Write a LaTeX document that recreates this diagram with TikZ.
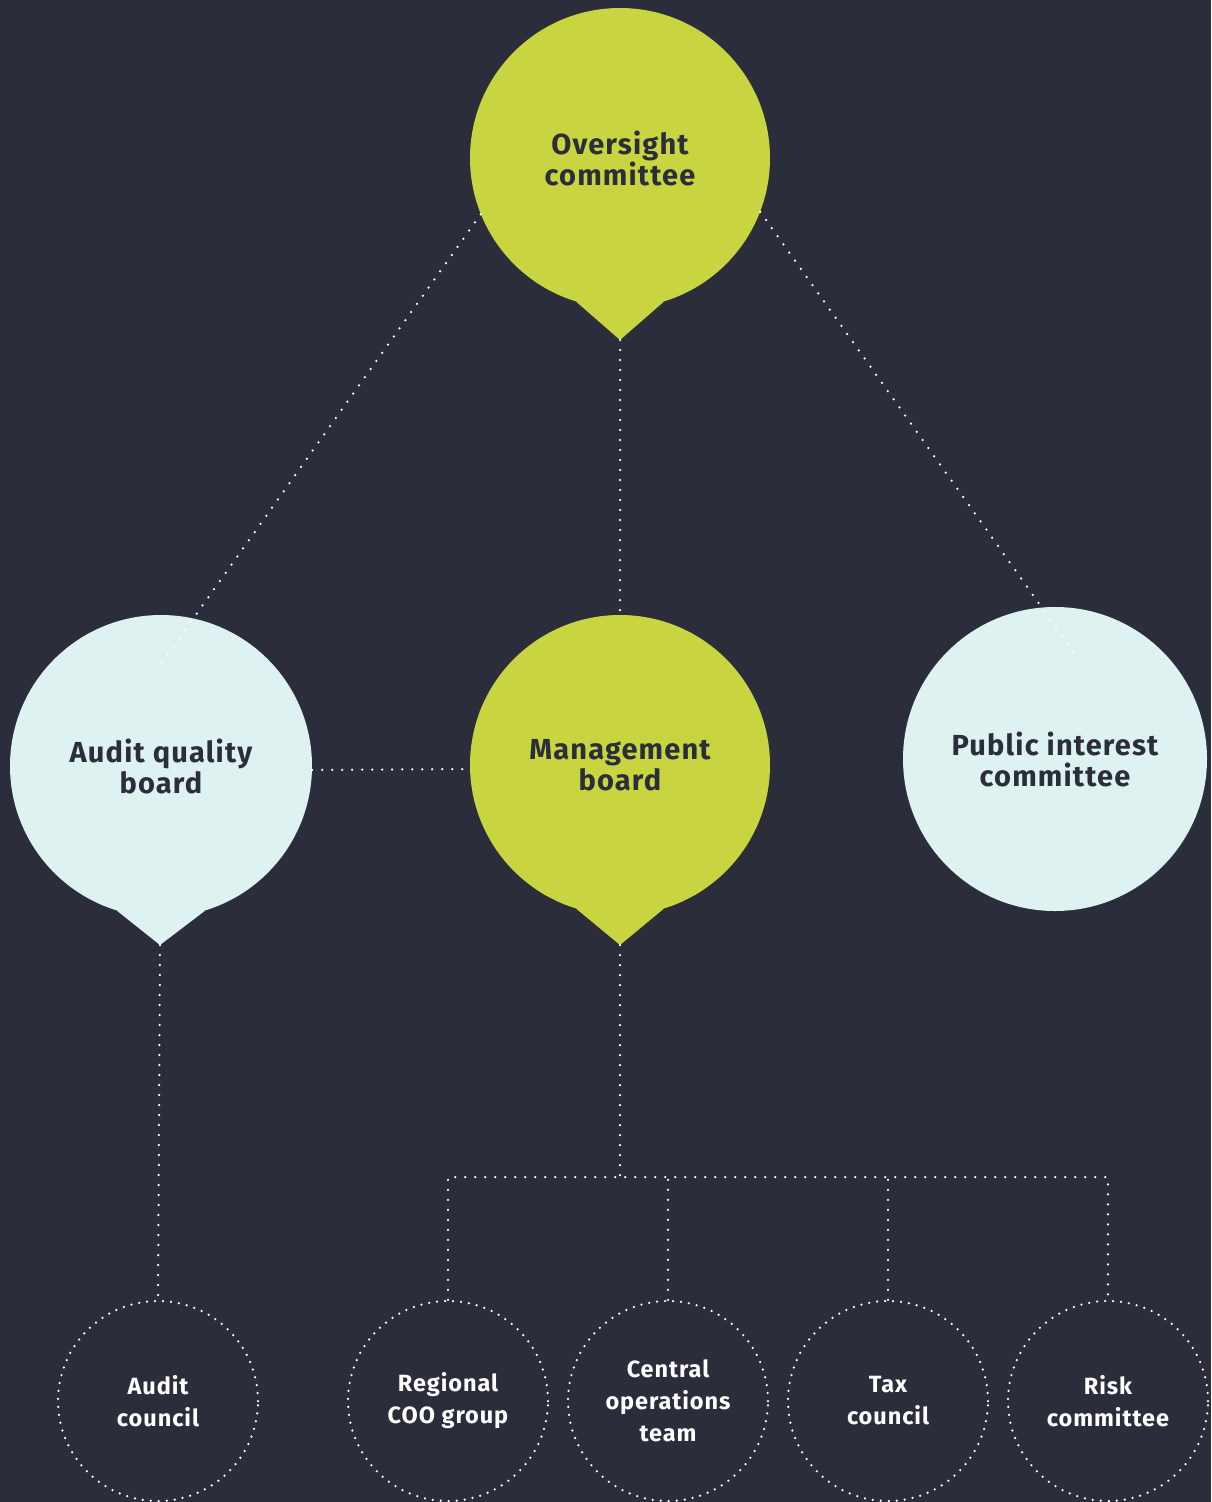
\documentclass[tikz,border=0pt]{standalone}
\usepackage{fontspec}
\setmainfont{Fira Sans}[LetterSpace=4]

\definecolor{navy}{HTML}{2B2E3A}
\definecolor{lime}{HTML}{C9D441}
\definecolor{mist}{HTML}{DEF2F1}

\tikzset{
  board/.style={circle, inner sep=0pt, minimum size=300pt, align=center, text=navy,
    font=\bfseries\fontsize{29}{31}\selectfont},
  unit/.style={circle, inner sep=0pt, minimum size=200pt, align=center, text=white,
    draw=white, line width=2.5pt, dash pattern=on 0pt off 8pt, line cap=round,
    font=\bfseries\fontsize{23.5}{32}\selectfont},
  link/.style={white, line width=2.5pt, dash pattern=on 0pt off 10pt, line cap=round},
}

\begin{document}
\begin{tikzpicture}[x=1pt, y=-1pt]
\fill[navy] (0,0) rectangle (1211,1502);
\useasboundingbox (0,0) rectangle (1211,1502);

% top level
\node[board, fill=lime] (ov) at (620,158) {Oversight\\committee};
\coordinate (ovtip) at (620,340);
\fill[lime] (ov.253) -- (ovtip) -- (ov.287) -- cycle;

% middle row
\node[board, fill=mist, minimum size=302pt] (aqb) at (161,766) {Audit quality\\board};
\coordinate (aqbtip) at (160,945);
\fill[mist] (aqb.253) -- (aqbtip) -- (aqb.287) -- cycle;

\node[board, fill=lime] (mb) at (620,765) {Management\\board};
\coordinate (mbtip) at (620,945);
\fill[lime] (mb.253) -- (mbtip) -- (mb.287) -- cycle;

\node[board, fill=mist, minimum size=304pt] (pic) at (1055,759) {Public interest\\committee};

% bottom row
\node[unit] (ac) at (158,1401) {Audit\\council};
\node[unit] (rcoo) at (448,1401) {Regional\\COO group};
\node[unit] (cot) at (668,1401) {Central\\operations\\team};
\node[unit] (tax) at (888,1401) {Tax\\council};
\node[unit] (risk) at (1108,1401) {Risk\\committee};

% links
\coordinate (aqbend) at (158,668);
\coordinate (picend) at (1077,657);
\coordinate (bus) at (620,1177);

\draw[link] (ov.202) -- (aqbend);
\draw[link] (ov.339) -- (picend);
\draw[link] (ovtip) -- (mb.north);
\draw[link] ([yshift=-4pt]aqb.east) -- ([yshift=-4pt]mb.west);
\draw[link] (aqbtip) -- (ac.north);
\draw[link] (mbtip) -- (bus);
\draw[link] (rcoo.north) -- (rcoo.north |- bus) -- (risk.north |- bus) -- (risk.north);
\draw[link] (cot.north) -- (cot.north |- bus);
\draw[link] (tax.north) -- (tax.north |- bus);
\end{tikzpicture}
\end{document}
